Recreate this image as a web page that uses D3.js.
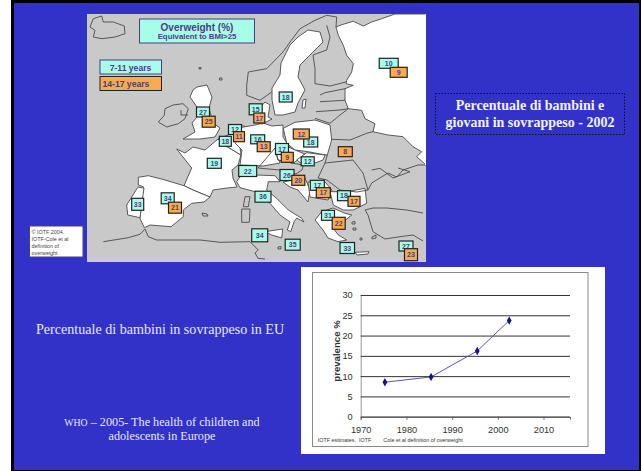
<!DOCTYPE html>
<html>
<head>
<meta charset="utf-8">
<script src="https://cdn.jsdelivr.net/npm/d3@7"></script>
<style>
html,body{margin:0;padding:0;background:#fff;overflow:hidden}
svg{display:block}
</style>
</head>
<body>
<svg id="slide" width="642" height="471"></svg>
<script>
// Overweight percentages by country, two age bands
const youngerValues = [27,12,18,15,18,16,17,18,12,19,22,26,36,34,33,34,35,17,18,31,33,27,10];
const olderValues   = [25,11,17,13,9,12,20,21,17,17,22,23,9,8];

// Prevalence over time for the line chart
const years = [1975.3,1985.4,1995.5,2002.5];
const prevalence = [8.5,9.8,16.2,23.7];
const yTicks = [0,5,10,15,20,25,30];
const xTicks = [1970,1980,1990,2000,2010];

// Where each value box sits on the map: centre x, centre y, width, height
const youngerBoxes = [[203,112,13,10],[235,129.5,13,10],[225.3,141.3,12,10],[255.7,109.3,13,11],[285.7,97,13,10],
  [257.7,139.3,14,9],[282,149,13,11],[310.7,142,14,10],[307.7,161.3,13,9],[214.3,163.3,14,10],[247.7,171,18,11],
  [287,175,14,11],[263,196.7,16,11],[167.7,198.3,13,11],[137.7,204.3,12,12],[259.7,235.3,16,13],[292.7,244.7,15,11],
  [317.3,185.3,14,10],[344,195.7,13,10],[328,215.3,13,10],[347.3,248,14.5,11],[406,246,14,10],[388.7,63.3,19,10]];
const olderBoxes = [[208.7,121.7,13,11],[239,136.7,11,10],[259.3,118,11,10],[263.7,146.7,13,10],[287.3,157.3,12,10],
  [301.3,134,16,10],[298.3,180.3,13,10],[175,207.7,13,11],[323.3,192.7,14,10],[354,201.3,12,10],[338.7,223.3,13,12],
  [411,254.7,13,12],[398.7,72.3,17,10],[345.3,151.7,14,10]];

// Country shapes filled white on the map
const whiteLand = [
  [[395,14],[381.7,18.7],[371.7,22],[363.3,26],[353.3,21.3],[341.7,24.7],[336,27],[338.3,35.3],[343.3,45.3],[346.7,55.3],[353.3,63.7],[351.7,72],[346.7,80.3],[346,83.7],[353.3,85.3],[345,88.7],[345,100.3],[348.3,108.7],[361.7,110.3],[365,118.7],[375,123.7],[373,131.7],[388,135],[403,136.7],[413,146.7],[421.7,151.7],[416.7,156.7],[426,165],[426,14]],
  [[308,30],[320,32],[323,42],[312,53],[300,65],[298,77],[305,90],[298,103],[295,112],[283,115],[275,115],[272,100],[272,88],[280,75],[281,63],[290,45],[298,37]],
  [[197,87],[207,85],[212,97],[209,108],[213,123],[220,128],[215,137],[200,139],[183,139],[195,132],[192,123],[197,117],[197,107],[190,97],[193,90]],
  [[176.7,149],[185,153],[193,147],[205,150],[218,139],[226,146],[241,155],[238,165],[232,170],[233,178],[237,187],[227,188],[213,190],[210,197],[193,190],[184,185.7],[191.7,168]],
  [[138.3,177.3],[148.3,175.7],[165,180],[184,185.7],[193,190],[210,197],[204,202],[191.7,203.3],[183.3,210],[183.3,216.7],[171,226.7],[150,225],[144.3,227.7],[140,218.3],[143.3,186.7],[138.3,185]],
  [[138,187],[144,188],[140,217.7],[127.7,215],[126.7,205]],
  [[218,139],[233,133],[240,147],[241,155],[226,146]],
  [[232,126],[245,126],[240,135],[233,133]],
  [[238,128],[255,125],[263,123],[272,126],[283,125],[283,137],[290,148],[277,152],[280,163],[263,166],[240,165],[242,150],[235,143]],
  [[258,110],[265,102],[270,105],[268,117],[272,119],[262,124],[258,123]],
  [[283.3,128.3],[295,122.3],[315,120],[330,125],[331.7,140],[327.3,155],[320,154],[308.3,151.7],[295,150],[286.7,143.3]],
  [[275,148],[281.7,144],[295,150],[305,154],[293.3,163.3],[278,160]],
  [[306.7,152.7],[325,155],[323,160],[315,163],[303.3,165],[296.7,160]],
  [[236.7,181.7],[240,176.7],[256.7,175],[275,175.7],[280,181.7],[268.3,181.7],[266.7,190],[277.3,199],[288.3,210],[301.7,218.3],[304,222],[296.7,218],[294,222],[290.7,231.7],[287.3,230],[290,222],[280,215],[270,203.3],[255,191.7],[240,187.7]],
  [[265,231.7],[282.7,229],[281.7,238],[271.7,235]],
  [[283,182],[293,180],[305,178],[310,190],[308,202],[298,190],[290,187]],
  [[308,182],[325,182],[332,190],[328,200],[310,197]],
  [[330,191.7],[346.7,191.7],[365,188.3],[366.7,203.3],[353.3,210],[343.3,210],[333.3,205]],
  [[315,220],[321.7,211.7],[333,208],[345,213.3],[351.7,215],[343,222],[333,228],[338.3,235],[346.7,240],[338,241.7],[328,238],[323,230]],
  [[355,252.3],[369,251.7],[368,254],[357,255]],
  [[303,100],[306,99],[305,108],[302,108]]
];

// Closed outlines left in the map's grey
const greyOutlines = [
  [[90,27],[93.3,18.7],[101.7,16],[103.3,22],[113.3,22],[124.3,26],[125,33.7],[115,37],[101.7,38.7],[93.3,37],[95,30.3]],
  [[165,108.7],[173,105],[183,103.7],[188.3,108.7],[185,118.7],[178.3,123.7],[166.7,127],[158.3,122],[164.3,115.3]],
  [[245,196.7],[250,196.7],[248.3,206.7],[243.3,206.7]],
  [[241.7,209],[250,209],[249.3,222.3],[241.7,222.3]],
  [[202,213],[207,214],[208,216],[203,216]],
  [[278,247],[281,246.5],[281,249],[278,249]],
  [[199,67.5],[201,67.5],[201,69],[199,69]],
  [[219.5,78],[222,78],[222,80],[219.5,80]],
  [[352,222],[355,221.5],[355,224],[352,224]],
  [[353,228],[356,228],[356,230],[353,230]],
  [[360,238],[362,238],[362,240],[360,240]],
  [[372,237],[376,235],[376,238],[372,239]],
  [[275,148],[278,160],[293.3,163.3],[303.3,165],[302,170],[296,174],[280,170],[258,168]],
  [[325,163],[353,160],[363,173],[368,190],[357,192],[340,190],[327,180],[318,178]]
];

// Open coast and border strokes
const borderLines = [
  [[103.3,241.7],[128.3,237.7],[140,234.3],[145,229],[148.3,236.7],[156.7,240],[200,240],[220,242.3],[250,241.7],[258.3,250],[255,253],[258,258.3],[265,259]],
  [[248.3,72],[266.7,68.7],[283,52],[290,42],[300,28.7],[315,20.3],[326.7,15.3],[336.7,17],[336,27]],
  [[248.3,72],[246.7,85.3],[246.7,95.3],[260,100.3],[271.7,92]],
  [[315,68.7],[313,55],[326.7,50],[330,37],[326.7,25.3]],
  [[315,68.7],[315,83.7],[330,86],[346,82]],
  [[320,95],[325,92.7],[345,88.7]],
  [[320,101.7],[345,100.3]],
  [[316,111.7],[340,110],[348.3,108.7]],
  [[315,118.3],[330,123.3],[340,115],[348.3,108.7]],
  [[331.7,139.3],[350,140],[366.7,133.3],[373,131.7]],
  [[327.3,155],[325,163]],
  [[368,190],[371.7,183],[388,173],[396.7,177],[403,170],[418,165],[426,165]],
  [[371.7,170],[380,168.3],[393,178],[410,171.7],[398,168]],
  [[365,210],[373,208],[386.7,208],[406.7,210],[423,213]],
  [[368,215],[373,231.7],[385,239],[400,236.7],[413,235],[423,241]],
  [[365,210],[368,215]],
  [[181,110],[181,115],[188,115]]
];

const svg = d3.select("#slide");
const slideBlue = "#3232c8";
const boxInk = "#4a3d80";
const lineInk = "#4a4a4a";
const serif = "'Liberation Serif','Times New Roman',serif";
const sans = "'Liberation Sans',Arial,sans-serif";

// Slide frame
svg.append("rect").attr("x",11).attr("y",0).attr("width",630).attr("height",471).attr("fill","#000");
svg.append("rect").attr("x",14).attr("y",3).attr("width",625).attr("height",467).attr("fill",slideBlue);

// Map panel
const mapLayer = svg.append("g");
mapLayer.append("rect").attr("x",87).attr("y",14).attr("width",339).attr("height",248).attr("fill","#c9c9c9");

const mapPath = d3.geoPath(d3.geoIdentity());
const polygon = ring => ({type:"Polygon",coordinates:[[...ring,ring[0]]]});

mapLayer.selectAll("path.land").data(whiteLand).join("path")
  .attr("class","land").attr("d",d=>mapPath(polygon(d)))
  .attr("fill","#fff").attr("stroke",lineInk).attr("stroke-width",0.9).attr("stroke-linejoin","round");
mapLayer.selectAll("path.grey").data(greyOutlines).join("path")
  .attr("class","grey").attr("d",d=>mapPath(polygon(d)))
  .attr("fill","none").attr("stroke",lineInk).attr("stroke-width",0.9).attr("stroke-linejoin","round");
mapLayer.selectAll("path.border").data(borderLines).join("path")
  .attr("class","border").attr("d",d=>mapPath({type:"LineString",coordinates:d}))
  .attr("fill","none").attr("stroke",lineInk).attr("stroke-width",0.9).attr("stroke-linejoin","round");

// White right-hand edge of the Russian area is closed by the panel, so it gets no stroke there
mapLayer.append("rect").attr("x",425).attr("y",14).attr("width",1).attr("height",151).attr("fill","#fff");

// Value boxes
function drawBoxes(values, boxes, fill){
  const g = mapLayer.append("g").selectAll("g").data(values.map((v,i)=>({v,b:boxes[i]}))).join("g");
  g.append("rect").attr("x",d=>d.b[0]-d.b[2]/2).attr("y",d=>d.b[1]-d.b[3]/2)
    .attr("width",d=>d.b[2]).attr("height",d=>d.b[3])
    .attr("fill",fill).attr("stroke","#222").attr("stroke-width",1.2);
  g.append("text").attr("x",d=>d.b[0]).attr("y",d=>d.b[1]+2.5).attr("text-anchor","middle")
    .attr("font-family",sans).attr("font-weight","bold").attr("font-size",7).attr("fill",boxInk)
    .text(d=>d.v);
}
drawBoxes(youngerValues, youngerBoxes, "#a8fde8");
drawBoxes(olderValues, olderBoxes, "#fda94e");

// Map title and legend
mapLayer.append("rect").attr("x",139.5).attr("y",19).attr("width",115).attr("height",24)
  .attr("fill","#a8fde8").attr("stroke",boxInk).attr("stroke-width",1);
mapLayer.append("text").attr("x",197).attr("y",30.5).attr("text-anchor","middle")
  .attr("font-family",sans).attr("font-weight","bold").attr("font-size",10).attr("fill",boxInk).text("Overweight (%)");
mapLayer.append("text").attr("x",197).attr("y",39).attr("text-anchor","middle")
  .attr("font-family",sans).attr("font-weight","bold").attr("font-size",7.8).attr("fill",boxInk).text("Equivalent to BMI>25");
mapLayer.append("rect").attr("x",100).attr("y",60).attr("width",61.5).attr("height",14)
  .attr("fill","#a8fde8").attr("stroke",boxInk).attr("stroke-width",1);
mapLayer.append("text").attr("x",130.5).attr("y",71).attr("text-anchor","middle")
  .attr("font-family",sans).attr("font-weight","bold").attr("font-size",8.6).attr("fill",boxInk).text("7-11 years");
mapLayer.append("rect").attr("x",100).attr("y",76.5).attr("width",61.5).attr("height",14)
  .attr("fill","#fda94e").attr("stroke","#222").attr("stroke-width",1);
mapLayer.append("text").attr("x",102.5).attr("y",86.5)
  .attr("font-family",sans).attr("font-weight","bold").attr("font-size",8.6).attr("fill",boxInk).text("14-17 years");

// Copyright note
svg.append("rect").attr("x",29.5).attr("y",226).attr("width",53.5).attr("height",31)
  .attr("fill","#fff").attr("stroke",boxInk).attr("stroke-width",1);
svg.append("g").selectAll("text").data(["© IOTF 2004.","IOTF-Cole et al","definition of","overweight"]).join("text")
  .attr("x",31.5).attr("y",(d,i)=>234+i*6.9)
  .attr("font-family",sans).attr("font-size",5.4).attr("fill","#444").text(d=>d);

// Heading beside the map
svg.append("rect").attr("x",435.5).attr("y",93.5).attr("width",189).attr("height",41)
  .attr("fill","none").attr("stroke","#111").attr("stroke-width",1).attr("stroke-dasharray","1.5 1.5");
svg.append("g").selectAll("text").data(["Percentuale di bambini e","giovani in sovrappeso - 2002"]).join("text")
  .attr("x",530).attr("y",(d,i)=>110+i*17).attr("text-anchor","middle")
  .attr("font-family",serif).attr("font-weight","bold").attr("font-size",14).attr("fill","#f2f2ff").text(d=>d);

// Captions beside the line chart
svg.append("text").attr("x",160).attr("y",333.5).attr("text-anchor","middle")
  .attr("font-family",serif).attr("font-size",14.1).attr("fill","#e8e8ff")
  .text("Percentuale di bambini in sovrappeso in EU");
const whoLine = svg.append("text").attr("x",162).attr("y",426).attr("text-anchor","middle")
  .attr("font-family",serif).attr("font-size",12.2).attr("fill","#e8e8ff");
whoLine.append("tspan").attr("font-size",9.8).text("WHO");
whoLine.append("tspan").text(" – 2005- The health of children and");
svg.append("text").attr("x",162).attr("y",440).attr("text-anchor","middle")
  .attr("font-family",serif).attr("font-size",12.2).attr("fill","#e8e8ff").text("adolescents in Europe");

// Line chart panel
svg.append("rect").attr("x",301).attr("y",267).attr("width",304).attr("height",187).attr("fill","#fff");
svg.append("rect").attr("x",312.5).attr("y",272.5).attr("width",275.5).attr("height",174)
  .attr("fill","none").attr("stroke","#8a8a8a").attr("stroke-width",1);

const x = d3.scaleLinear().domain([1970,2015.8]).range([360.7,570]);
const y = d3.scaleLinear().domain([0,30]).range([416.7,295]);
const chart = svg.append("g");

const gridAxis = d3.axisLeft(y).tickValues(yTicks).tickSize(-(570-360.7)).tickPadding(8);
const yG = chart.append("g").attr("transform","translate(360.7,0)").call(gridAxis);
yG.select(".domain").attr("stroke","#999");
yG.selectAll(".tick line").attr("stroke","#333").attr("stroke-width",1);
yG.selectAll("text").attr("font-family",sans).attr("font-size",9.2).attr("fill","#333");

const xAxis = d3.axisBottom(x).tickValues(xTicks).tickFormat(d3.format("d")).tickSize(3).tickPadding(7);
const xG = chart.append("g").attr("transform","translate(0,416.7)").call(xAxis);
xG.select(".domain").attr("stroke","#666");
xG.selectAll(".tick line").attr("stroke","#666");
xG.selectAll("text").attr("font-family",sans).attr("font-size",9.2).attr("fill","#333");

const series = years.map((yr,i)=>[yr,prevalence[i]]);
chart.append("path").datum(series)
  .attr("d",d3.line().x(d=>x(d[0])).y(d=>y(d[1])))
  .attr("fill","none").attr("stroke","#5a55b0").attr("stroke-width",1);
chart.selectAll("path.pt").data(series).join("path").attr("class","pt")
  .attr("d",d3.symbol(d3.symbolDiamond,20))
  .attr("transform",d=>`translate(${x(d[0])},${y(d[1])})`).attr("fill","#14148c");

chart.append("text").attr("transform","translate(340,351) rotate(-90)").attr("text-anchor","middle")
  .attr("font-family",sans).attr("font-weight","bold").attr("font-size",9.6).attr("fill","#333").text("prevalence %");
chart.append("text").attr("x",317.7).attr("y",441.7)
  .attr("font-family",sans).attr("font-size",5.4).attr("fill","#333").attr("xml:space","preserve")
  .text("IOTF estimates.  IOTF");
chart.append("text").attr("x",383.3).attr("y",441.7)
  .attr("font-family",sans).attr("font-size",5.4).attr("fill","#333")
  .text("Cole et al definition of overweight");
</script>
</body>
</html>
